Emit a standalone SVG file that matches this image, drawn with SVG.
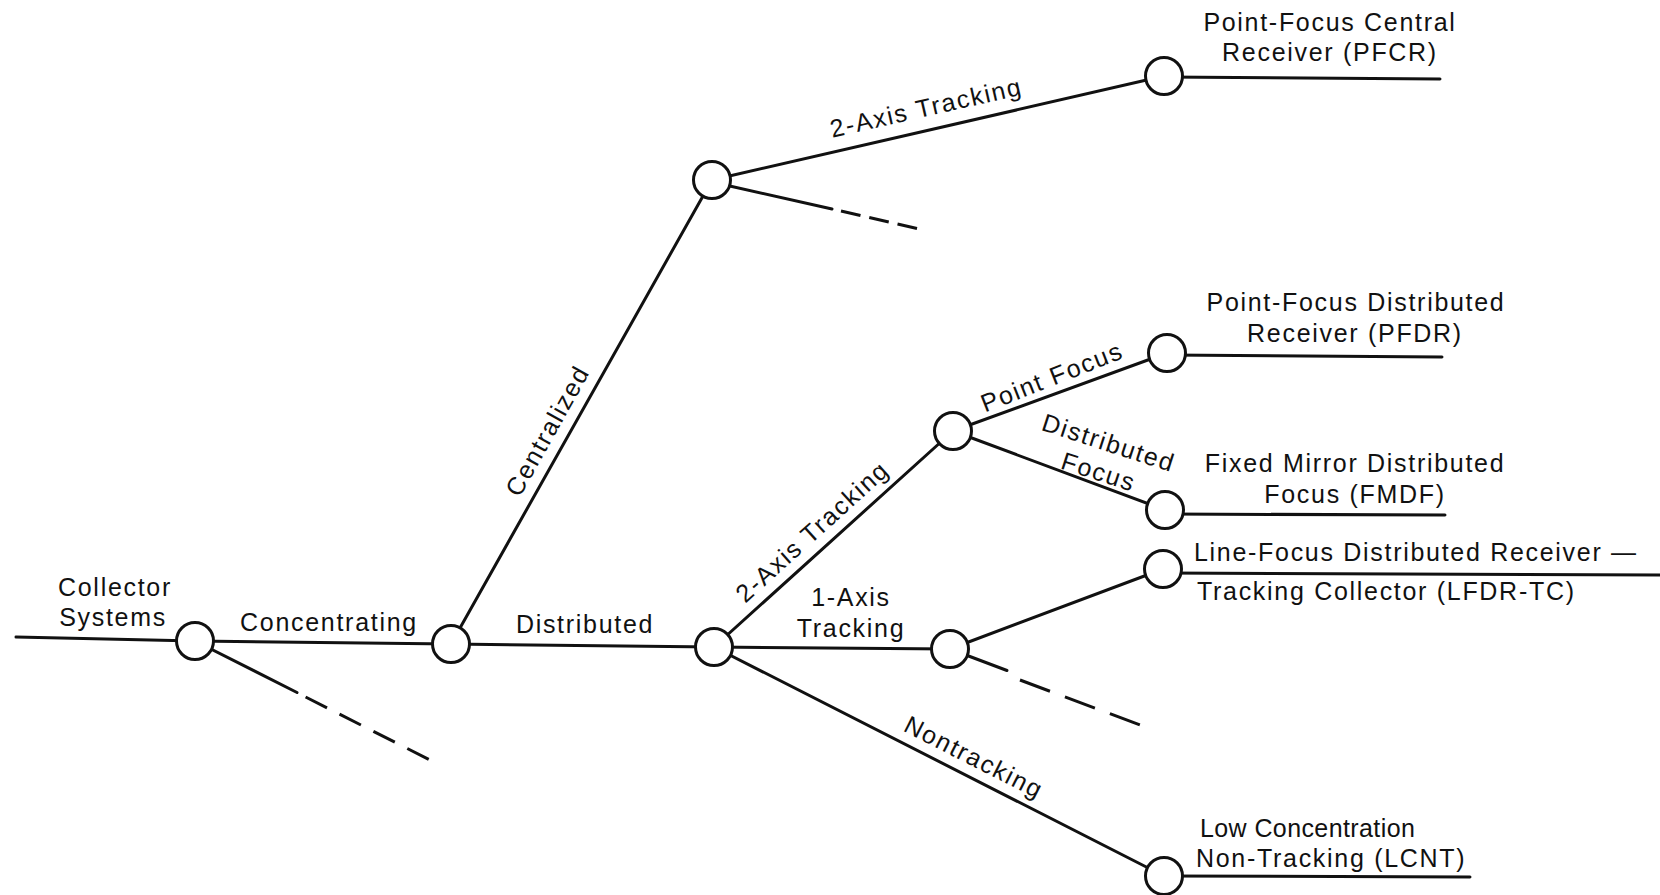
<svg xmlns="http://www.w3.org/2000/svg" width="1660" height="895" viewBox="0 0 1660 895">
<style>
  .ln { stroke:#111; stroke-width:3; fill:none; stroke-linecap:round; }
  .dash { stroke:#111; stroke-width:3; fill:none; }
  .nd { stroke:#111; stroke-width:3; fill:#fff; }
  text { font-family:"Liberation Sans", Arial, sans-serif; font-size:25px; fill:#111; letter-spacing:1.7px; }
  .mid { text-anchor:middle; }
</style>
<rect width="1660" height="895" fill="#fff"/>
<g id="connectors">
  <line class="ln" x1="16" y1="637" x2="195" y2="641"/>
  <line class="ln" x1="195" y1="641" x2="451" y2="644"/>
  <line class="ln" x1="195" y1="641" x2="297" y2="692.5"/>
  <line class="dash" x1="305.6" y1="697" x2="430" y2="760" stroke-dasharray="24 14"/>
  <line class="ln" x1="451" y1="644" x2="712" y2="180"/>
  <line class="ln" x1="451" y1="644" x2="714" y2="647"/>
  <line class="ln" x1="712" y1="180" x2="1164" y2="76"/>
  <line class="ln" x1="712" y1="182" x2="832" y2="209"/>
  <line class="dash" x1="841" y1="211" x2="919" y2="229" stroke-dasharray="20 9"/>
  <line class="ln" x1="1164" y1="77" x2="1440" y2="79"/>
  <line class="ln" x1="714" y1="647" x2="953" y2="431"/>
  <line class="ln" x1="714" y1="647" x2="950" y2="649"/>
  <line class="ln" x1="714" y1="647" x2="1164" y2="876"/>
  <line class="ln" x1="953" y1="431" x2="1167" y2="353"/>
  <line class="ln" x1="953" y1="431" x2="1165" y2="510"/>
  <line class="ln" x1="1167" y1="355" x2="1442" y2="357"/>
  <line class="ln" x1="1165" y1="514" x2="1445" y2="515"/>
  <line class="ln" x1="950" y1="649" x2="1163" y2="569"/>
  <line class="ln" x1="950" y1="649" x2="1007" y2="670.5"/>
  <line class="dash" x1="1020" y1="680" x2="1140" y2="725" stroke-dasharray="32 16"/>
  <line class="ln" x1="1163" y1="573" x2="1660" y2="575"/>
  <line class="ln" x1="1164" y1="876" x2="1470" y2="877"/>
</g>
<g id="edge-labels">
  <text class="mid" x="329" y="631">Concentrating</text>
  <text class="mid" x="585" y="633">Distributed</text>
  <text class="mid" transform="translate(555,435) rotate(-60.8)">Centralized</text>
  <text class="mid" transform="translate(928,116) rotate(-12.8)">2-Axis Tracking</text>
  <text class="mid" transform="translate(818,538) rotate(-42.1)">2-Axis Tracking</text>
  <text class="mid" x="851" y="606">1-Axis</text>
  <text class="mid" x="851" y="637">Tracking</text>
  <text class="mid" transform="translate(1055,385) rotate(-21.5)">Point Focus</text>
  <text class="mid" transform="translate(1106,451) rotate(18)">Distributed</text>
  <text class="mid" transform="translate(1096,480) rotate(18)">Focus</text>
  <text class="mid" transform="translate(970,765) rotate(26.9)">Nontracking</text>
</g>
<g id="node-collector-systems">
  <circle class="nd" cx="195" cy="641" r="18.5"/>
  <text class="mid" x="115" y="596">Collector</text>
  <text class="mid" x="113" y="626">Systems</text>
</g>
<g id="node-concentrating">
  <circle class="nd" cx="451" cy="644" r="18.5"/>
</g>
<g id="node-centralized">
  <circle class="nd" cx="712" cy="180" r="18.5"/>
</g>
<g id="node-distributed">
  <circle class="nd" cx="714" cy="647" r="18.5"/>
</g>
<g id="node-pfcr">
  <circle class="nd" cx="1164" cy="76" r="18.5"/>
  <text class="mid" x="1330" y="31">Point-Focus Central</text>
  <text class="mid" x="1330" y="61">Receiver (PFCR)</text>
</g>
<g id="node-2axis">
  <circle class="nd" cx="953" cy="431" r="18.5"/>
</g>
<g id="node-pfdr">
  <circle class="nd" cx="1167" cy="353" r="18.5"/>
  <text class="mid" x="1356" y="311">Point-Focus Distributed</text>
  <text class="mid" x="1355" y="342">Receiver (PFDR)</text>
</g>
<g id="node-fmdf">
  <circle class="nd" cx="1165" cy="510" r="18.5"/>
  <text class="mid" x="1355" y="472">Fixed Mirror Distributed</text>
  <text class="mid" x="1355" y="503">Focus (FMDF)</text>
</g>
<g id="node-1axis">
  <circle class="nd" cx="950" cy="649" r="18.5"/>
</g>
<g id="node-lfdr-tc">
  <circle class="nd" cx="1163" cy="569" r="18.5"/>
  <text x="1194" y="561">Line-Focus Distributed Receiver —</text>
  <text x="1197" y="600">Tracking Collector (LFDR-TC)</text>
</g>
<g id="node-lcnt">
  <circle class="nd" cx="1164" cy="876" r="18.5"/>
  <text x="1200" y="837" style="letter-spacing:0.4px">Low Concentration</text>
  <text x="1196" y="867">Non-Tracking (LCNT)</text>
</g>
</svg>
